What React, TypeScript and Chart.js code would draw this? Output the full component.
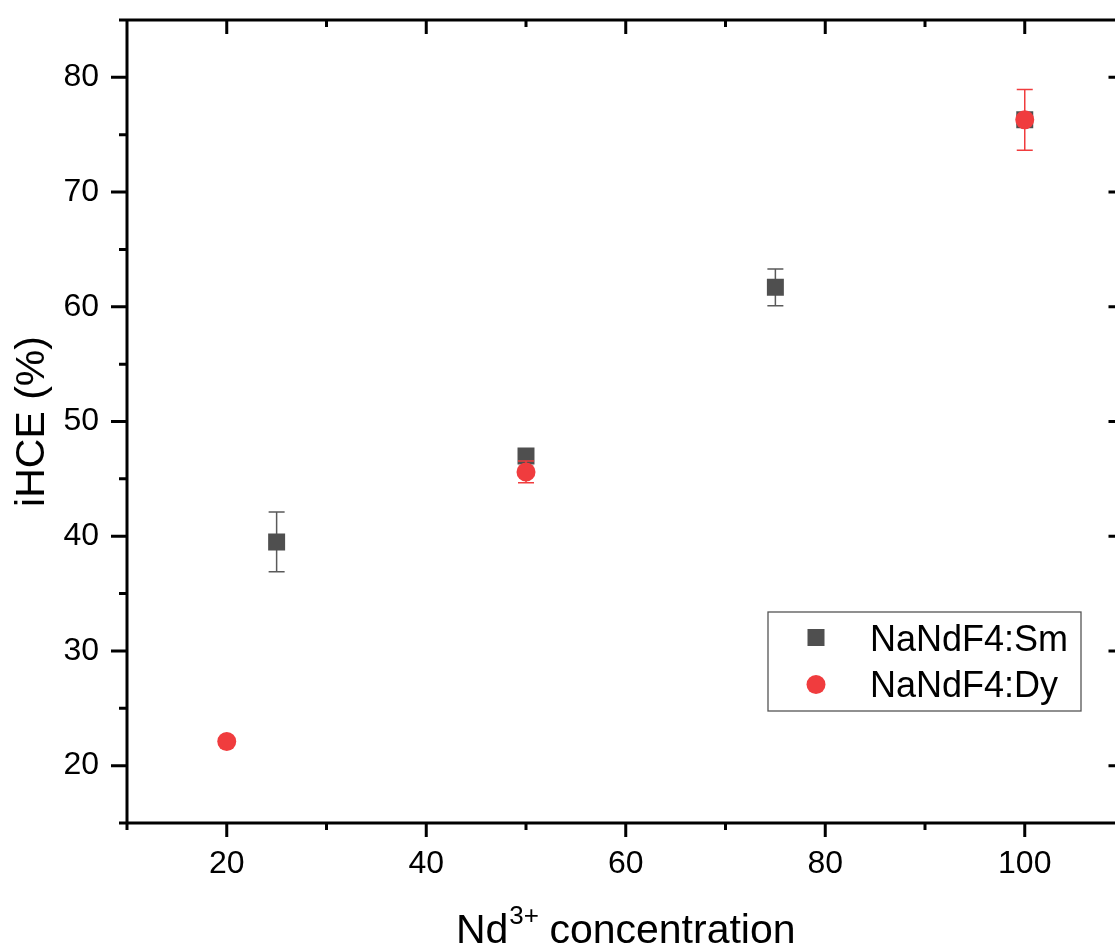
import React, { useEffect, useRef } from "react";
import { Chart, registerables } from "chart.js";

Chart.register(...registerables);

// ---- data ----
const smX = [25, 50, 75, 100];
const smY = [39.5, 47.0, 61.7, 76.3];
const smErr = [2.6, 0.4, 1.6, 0.4];
const dyX = [20, 50, 100];
const dyY = [22.1, 45.6, 76.3];
const dyErr = [0.3, 0.95, 2.65];
const seriesNames = ["NaNdF4:Sm", "NaNdF4:Dy"];
const xMajor = [20, 40, 60, 80, 100];
const xMinor = [10, 30, 50, 70, 90, 110];
const yMajor = [20, 30, 40, 50, 60, 70, 80];
const yMinor = [15, 25, 35, 45, 55, 65, 75, 85];
const xTitleMain = "Nd";
const xTitleSup = "3+";
const xTitleRest = " concentration";
const yTitle = "iHCE (%)";

const FONT = "'Liberation Sans', Arial, sans-serif";
const SM_COLOR = "#4f4f4f";
const DY_COLOR = "#f03c3e";

const errorBarPlugin = {
  id: "errorBars",
  beforeDatasetDraw(chart: any, args: any) {
    const ds = chart.data.datasets[args.index];
    const errs: number[] = ds.errors || [];
    const xs = chart.scales.x;
    const ys = chart.scales.y;
    const ctx = chart.ctx;
    ctx.save();
    ctx.strokeStyle = ds.errorColor;
    ctx.lineWidth = 1.5;
    ds.data.forEach((p: any, i: number) => {
      const e = errs[i];
      if (!e) return;
      const px = xs.getPixelForValue(p.x);
      const yt = ys.getPixelForValue(p.y + e);
      const yb = ys.getPixelForValue(p.y - e);
      ctx.beginPath();
      ctx.moveTo(px, yt);
      ctx.lineTo(px, yb);
      ctx.moveTo(px - 8, yt);
      ctx.lineTo(px + 8, yt);
      ctx.moveTo(px - 8, yb);
      ctx.lineTo(px + 8, yb);
      ctx.stroke();
    });
    ctx.restore();
  },
};

const framePlugin = {
  id: "frame",
  afterDraw(chart: any) {
    const { ctx, chartArea: a } = chart;
    const xs = chart.scales.x;
    const ys = chart.scales.y;
    ctx.save();
    ctx.strokeStyle = "#000";
    ctx.lineWidth = 3;
    ctx.lineCap = "butt";
    ctx.beginPath();
    ctx.moveTo(a.left, a.top);
    ctx.lineTo(a.right, a.top);
    ctx.moveTo(a.left, a.bottom);
    ctx.lineTo(a.right, a.bottom);
    ctx.moveTo(a.left, a.top - 1.5);
    ctx.lineTo(a.left, a.bottom + 1.5);
    ctx.moveTo(a.right, a.top - 1.5);
    ctx.lineTo(a.right, a.bottom + 1.5);
    const yt = (vals: number[], len: number) => {
      vals.forEach((v) => {
        const py = ys.getPixelForValue(v);
        ctx.moveTo(a.left - len, py);
        ctx.lineTo(a.left, py);
        ctx.moveTo(a.right - len, py);
        ctx.lineTo(a.right, py);
      });
    };
    yt(yMajor, 16);
    yt(yMinor, 8);
    const xt = (vals: number[], len: number) => {
      vals.forEach((v) => {
        const px = xs.getPixelForValue(v);
        ctx.moveTo(px, a.bottom);
        ctx.lineTo(px, a.bottom + len);
        ctx.moveTo(px, a.top);
        ctx.lineTo(px, a.top + len);
      });
    };
    xt(xMajor, 14);
    xt(xMinor, 7);
    ctx.stroke();

    // axis titles
    ctx.fillStyle = "#000";
    const cx = (a.left + a.right) / 2;
    const cy = (a.top + a.bottom) / 2;
    ctx.font = `41px ${FONT}`;
    ctx.textBaseline = "alphabetic";
    ctx.textAlign = "left";
    const w1 = ctx.measureText(xTitleMain).width;
    const w3 = ctx.measureText(xTitleRest).width;
    ctx.font = `26px ${FONT}`;
    const w2 = ctx.measureText(xTitleSup).width;
    const start = cx - (w1 + w2 + w3) / 2;
    const base = 943;
    ctx.font = `41px ${FONT}`;
    ctx.fillText(xTitleMain, start, base);
    ctx.fillText(xTitleRest, start + w1 + w2, base);
    ctx.font = `26px ${FONT}`;
    ctx.fillText(xTitleSup, start + w1 + 1, base - 19);

    ctx.save();
    ctx.translate(44, cy);
    ctx.rotate(-Math.PI / 2);
    ctx.font = `41px ${FONT}`;
    ctx.textAlign = "center";
    ctx.fillText(yTitle, 0, 0);
    ctx.restore();

    // legend
    const lx = 768, ly = 612, lw = 313, lh = 99;
    ctx.lineWidth = 1.3;
    ctx.strokeStyle = "#555";
    ctx.strokeRect(lx, ly, lw, lh);
    ctx.fillStyle = SM_COLOR;
    ctx.fillRect(816 - 8.5, 637.5 - 8.5, 17, 17);
    ctx.fillStyle = DY_COLOR;
    ctx.beginPath();
    ctx.arc(816, 684.5, 9.5, 0, Math.PI * 2);
    ctx.fill();
    ctx.fillStyle = "#000";
    ctx.font = `36px ${FONT}`;
    ctx.textAlign = "left";
    ctx.fillText(seriesNames[0], 870, 651);
    ctx.fillText(seriesNames[1], 870, 697);
    ctx.restore();
  },
};

export default function App() {
  const ref = useRef<HTMLCanvasElement>(null);
  useEffect(() => {
    if (!ref.current) return;
    const chart = new Chart(ref.current, {
      type: "scatter",
      data: {
        datasets: [
          {
            label: seriesNames[0],
            data: smX.map((x, i) => ({ x, y: smY[i] })),
            errors: smErr,
            errorColor: "#5a5a5a",
            pointStyle: "rect",
            pointRadius: 12,
            pointHoverRadius: 12,
            backgroundColor: SM_COLOR,
            borderWidth: 0,
            order: 1,
          } as any,
          {
            label: seriesNames[1],
            data: dyX.map((x, i) => ({ x, y: dyY[i] })),
            errors: dyErr,
            errorColor: DY_COLOR,
            pointStyle: "circle",
            pointRadius: 9.5,
            pointHoverRadius: 9.5,
            backgroundColor: DY_COLOR,
            borderWidth: 0,
            order: 0,
          } as any,
        ],
      },
      options: {
        animation: false,
        responsive: false,
        events: [],
        layout: { padding: { left: 0, top: 20, right: 15.5, bottom: 0 } },
        plugins: { legend: { display: false }, tooltip: { enabled: false } },
        scales: {
          x: {
            type: "linear",
            min: 10,
            max: 110,
            grid: { display: false, drawTicks: false },
            border: { display: false },
            afterBuildTicks: (s: any) => {
              s.ticks = xMajor.map((v) => ({ value: v }));
            },
            afterFit: (s: any) => {
              s.height = 126;
              s.paddingLeft = 0;
              s.paddingRight = 0;
            },
            ticks: {
              color: "#000",
              font: { family: FONT, size: 32 },
              padding: 22,
              maxRotation: 0,
            },
          },
          y: {
            type: "linear",
            min: 15,
            max: 85,
            grid: { display: false, drawTicks: false },
            border: { display: false },
            afterBuildTicks: (s: any) => {
              s.ticks = yMajor.map((v) => ({ value: v }));
            },
            afterFit: (s: any) => {
              s.width = 127;
              s.paddingTop = 0;
              s.paddingBottom = 0;
            },
            ticks: {
              color: "#000",
              font: { family: FONT, size: 32 },
              padding: 28,
            },
          },
        },
      },
      plugins: [errorBarPlugin, framePlugin],
    });
    return () => chart.destroy();
  }, []);
  return (
    <div style={{ position: "fixed", left: 0, top: 0, width: 1140, height: 949, background: "#fff" }}>
      <canvas ref={ref} width={1140} height={949} style={{ width: 1140, height: 949, display: "block" }} />
    </div>
  );
}
